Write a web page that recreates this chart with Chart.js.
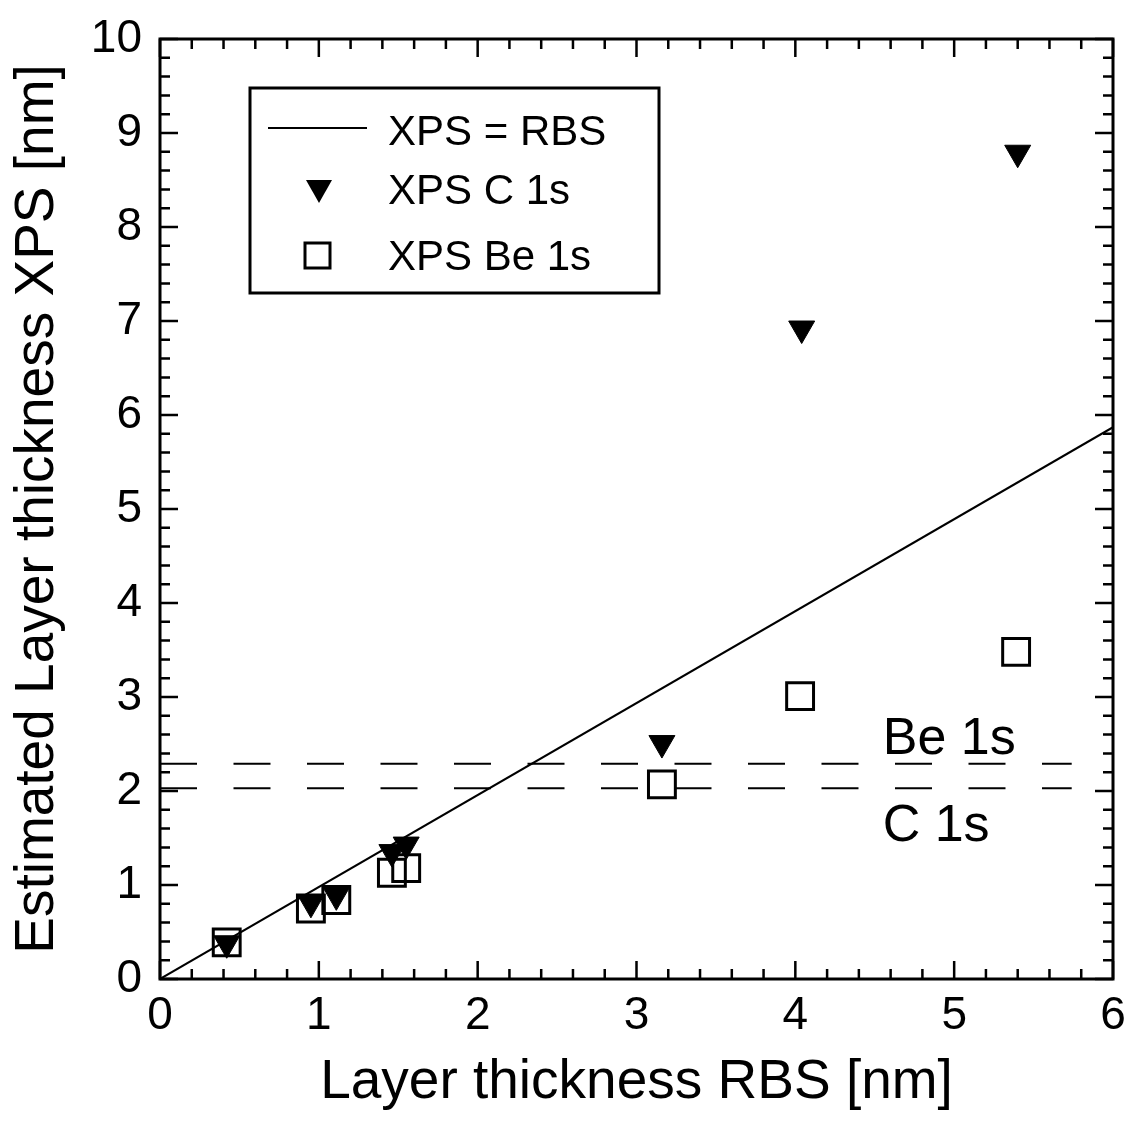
<!DOCTYPE html>
<html>
<head>
<meta charset="utf-8">
<script src="https://cdn.jsdelivr.net/npm/chart.js@4.4.1/dist/chart.umd.min.js"></script>
<style>
  html, body { margin: 0; padding: 0; background: #fff; }
</style>
</head>
<body>
<canvas id="chart" width="1135" height="1124"></canvas>
<script>
// ========== DATA ========== //
const rbsC  = [0.42, 0.95, 1.11, 1.46, 1.55, 3.16, 4.04, 5.40];
const xpsC  = [0.38, 0.81, 0.89, 1.35, 1.43, 2.51, 6.92, 8.79];
const rbsBe = [0.42, 0.95, 1.11, 1.46, 1.55, 3.16, 4.03, 5.39];
const xpsBe = [0.39, 0.75, 0.84, 1.13, 1.18, 2.07, 3.01, 3.48];

const diagX = [0, 6];
const diagY = [0, 5.87];

// detection limits (dashed)
const limitX  = [0, 5.74];
const limitBe = 2.29;
const limitC  = 2.03;

const xTicks = [0, 1, 2, 3, 4, 5, 6];
const yTicks = [0, 1, 2, 3, 4, 5, 6, 7, 8, 9, 10];

const legendLabels = ["XPS = RBS", "XPS C 1s", "XPS Be 1s"];
const noteLabels = ["Be 1s", "C 1s"];

const FONT = '"Liberation Sans", Arial, Helvetica, sans-serif';

function pts(xs, ys) {
  return xs.map((v, i) => ({ x: v, y: ys[i] }));
}

// ========== FRAME, TICKS, LEGEND, NOTES ========== //
const decor = {
  id: "decor",
  afterDraw(chart) {
    const { ctx, chartArea: a, scales: { x, y } } = chart;
    ctx.save();
    ctx.strokeStyle = "#000";
    ctx.fillStyle = "#000";

    // frame
    ctx.lineWidth = 3;
    ctx.strokeRect(a.left, a.top, a.right - a.left, a.bottom - a.top);

    // inward ticks on all four sides, minor every 0.2
    ctx.lineWidth = 2.5;
    ctx.beginPath();
    for (let i = 0; i <= 30; i++) {
      const px = x.getPixelForValue(i * 0.2);
      const len = i % 5 === 0 ? 18 : 10;
      ctx.moveTo(px, a.bottom); ctx.lineTo(px, a.bottom - len);
      ctx.moveTo(px, a.top);    ctx.lineTo(px, a.top + len);
    }
    for (let i = 0; i <= 50; i++) {
      const py = y.getPixelForValue(i * 0.2);
      const len = i % 5 === 0 ? 18 : 10;
      ctx.moveTo(a.left, py);  ctx.lineTo(a.left + len, py);
      ctx.moveTo(a.right, py); ctx.lineTo(a.right - len, py);
    }
    ctx.stroke();

    // legend box
    ctx.lineWidth = 3;
    ctx.fillStyle = "#fff";
    ctx.fillRect(250, 88, 409, 205);
    ctx.strokeRect(250, 88, 409, 205);
    ctx.fillStyle = "#000";
    ctx.lineWidth = 2;
    ctx.beginPath();
    ctx.moveTo(268, 128); ctx.lineTo(367, 128);
    ctx.stroke();
    ctx.beginPath();
    ctx.moveTo(319, 203); ctx.lineTo(306, 180); ctx.lineTo(332, 180); ctx.closePath();
    ctx.fill();
    ctx.lineWidth = 3;
    ctx.strokeRect(305, 243, 25, 25);

    ctx.font = "42px " + FONT;
    ctx.textBaseline = "middle";
    ctx.textAlign = "left";
    ctx.fillText(legendLabels[0], 388, 133);
    ctx.fillText(legendLabels[1], 388, 192);
    ctx.fillText(legendLabels[2], 388, 258);

    // labels of the dashed lines
    ctx.font = "52px " + FONT;
    ctx.fillText(noteLabels[0], x.getPixelForValue(4.55), y.getPixelForValue(2.55));
    ctx.fillText(noteLabels[1], x.getPixelForValue(4.55), y.getPixelForValue(1.62));
    ctx.restore();
  }
};

// ========== CHART ========== //
new Chart(document.getElementById("chart"), {
  type: "scatter",
  data: {
    datasets: [
      {
        label: legendLabels[1],
        data: pts(rbsC, xpsC),
        pointStyle: "triangle",
        rotation: 180,
        pointRadius: 15,
        backgroundColor: "#000",
        borderColor: "#000",
        borderWidth: 1,
        order: 0
      },
      {
        label: legendLabels[2],
        data: pts(rbsBe, xpsBe),
        pointStyle: "rect",
        pointRadius: 19,
        backgroundColor: "rgba(0,0,0,0)",
        borderColor: "#000",
        borderWidth: 3,
        order: 1
      },
      {
        label: legendLabels[0],
        data: pts(diagX, diagY),
        showLine: true,
        pointRadius: 0,
        borderColor: "#000",
        borderWidth: 2,
        order: 2
      },
      {
        label: noteLabels[0],
        data: pts(limitX, [limitBe, limitBe]),
        showLine: true,
        pointRadius: 0,
        borderColor: "#000",
        borderWidth: 2,
        borderDash: [37, 36.5],
        order: 2
      },
      {
        label: noteLabels[1],
        data: pts(limitX, [limitC, limitC]),
        showLine: true,
        pointRadius: 0,
        borderColor: "#000",
        borderWidth: 2,
        borderDash: [37, 36.5],
        order: 2
      }
    ]
  },
  options: {
    responsive: false,
    animation: false,
    devicePixelRatio: 1,
    layout: { padding: { top: 39, right: 16, left: 0, bottom: 0 } },
    plugins: { legend: { display: false }, tooltip: { enabled: false } },
    scales: {
      x: {
        type: "linear",
        min: 0,
        max: 6,
        afterBuildTicks: s => { s.ticks = xTicks.map(v => ({ value: v })); },
        afterFit: s => { s.height = 145; s.paddingLeft = 0; s.paddingRight = 0; },
        grid: { display: false, drawTicks: false },
        border: { display: false },
        ticks: { color: "#000", font: { family: FONT, size: 46 }, padding: 10, maxRotation: 0, autoSkip: false },
        title: { display: true, text: "Layer thickness RBS [nm]", color: "#000",
                 font: { family: FONT, size: 55 }, padding: { top: 0, bottom: 8 } }
      },
      y: {
        type: "linear",
        min: 0,
        max: 10,
        afterBuildTicks: s => { s.ticks = yTicks.map(v => ({ value: v })); },
        afterFit: s => { s.width = 160; s.paddingTop = 0; s.paddingBottom = 0; },
        grid: { display: false, drawTicks: false },
        border: { display: false },
        ticks: { color: "#000", font: { family: FONT, size: 46 }, padding: 18, autoSkip: false },
        title: { display: true, text: "Estimated Layer thickness XPS [nm]", color: "#000",
                 font: { family: FONT, size: 55 }, padding: { top: 5, bottom: 0 } }
      }
    }
  },
  plugins: [decor]
});
</script>
</body>
</html>
